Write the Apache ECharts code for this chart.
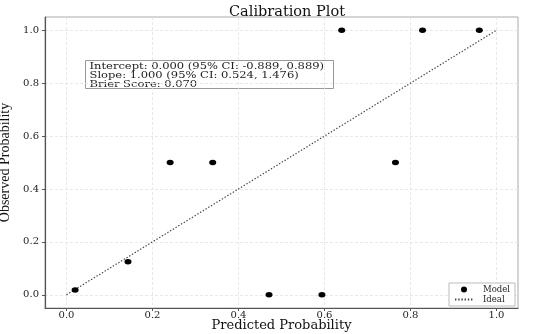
<!DOCTYPE html>
<html><head><meta charset="utf-8">
<script src="https://cdn.jsdelivr.net/npm/echarts@6/dist/echarts.min.js"></script>
<style>html,body{margin:0;padding:0;background:#fff}#c{width:550px;height:334px}</style>
</head><body><div id="c"></div>
<script>
const predicted = [0.02, 0.143, 0.241, 0.340, 0.471, 0.594, 0.640, 0.765, 0.828, 0.960];
const observed  = [0.018, 0.125, 0.5, 0.5, 0.0, 0.0, 1.0, 0.5, 1.0, 1.0];
const idealX = [0, 1];
const idealY = [0, 1];
const tickValues = [0, 0.2, 0.4, 0.6, 0.8, 1.0];
const statsLines = [
  'Intercept: 0.000 (95% CI: -0.889, 0.889)',
  'Slope: 1.000 (95% CI: 0.524, 1.476)',
  'Brier Score: 0.070'
];
const SERIF = 'DejaVu Serif';
const chart = echarts.init(document.getElementById('c'), null, {renderer: 'canvas'});
function axisCfg(name, isY) {
  return {
    type: 'value', min: -0.05, max: 1.05,
    name: name, nameLocation: 'middle', nameMoveOverlap: false,
    nameGap: isY ? 33 : 11,
    nameTextStyle: isY ? {fontFamily: 'Liberation Serif', fontSize: 14, color: '#111'} : {fontFamily: SERIF, fontSize: 13, color: '#111'},
    axisLine: {show: true, onZero: false, lineStyle: {color: '#555', width: 1.2}},
    axisTick: {show: true, length: 3, customValues: tickValues, lineStyle: {color: '#555'}},
    axisLabel: {customValues: tickValues, fontFamily: SERIF, fontSize: 10, color: '#222', margin: isY ? 6 : 2,
      formatter: v => v.toFixed(1)},
    splitLine: {show: true, lineStyle: {color: '#e2e2e2', type: [3, 2], width: 0.8}}
  };
}
chart.setOption({
  animation: false,
  title: {text: 'Calibration Plot', left: 282, textAlign: 'center', top: 0,
    textStyle: {fontFamily: SERIF, fontSize: 14.5, fontWeight: 'normal', color: '#111'}},
  grid: {left: 45, right: 32, top: 17, bottom: 26, show: true, borderColor: '#aaa', borderWidth: 1,
    containLabel: false, outerBoundsMode: 'none'},
  xAxis: axisCfg('Predicted Probability', false),
  yAxis: axisCfg('Observed Probability', true),
  legend: {
    orient: 'vertical', right: 35, bottom: 28,
    backgroundColor: '#fff', borderColor: '#bbb', borderWidth: 1, padding: [2, 5, 2, 5],
    itemGap: 1, itemWidth: 18, itemHeight: 6,
    textStyle: {fontFamily: SERIF, fontSize: 8.5, color: '#222', padding: [0, 0, 0, 5]},
    data: [{name: 'Model', icon: 'circle'}, {name: 'Ideal', itemStyle: {opacity: 0}}]
  },
  graphic: [{
    type: 'group', left: 85, top: 60,
    children: [
      {type: 'rect', shape: {x: 0, y: 0, width: 248, height: 28},
        style: {fill: '#fff', stroke: '#999', lineWidth: 1}},
      {type: 'text', x: 4, y: 1.5, scaleX: 1.2, style: {text: statsLines.join('\n'), font: '9.6px "DejaVu Serif"', fill: '#222', lineHeight: 8.8}}
    ]
  }],
  series: [
    {name: 'Ideal', type: 'line', data: idealX.map((x, i) => [x, idealY[i]]),
      showSymbol: false, symbol: 'none', itemStyle: {color: '#444'},
      lineStyle: {color: '#444', width: 1.2, type: [1.4, 1.8]}, z: 2},
    {name: 'Model', type: 'scatter', data: predicted.map((x, i) => [x, observed[i]]),
      symbol: 'circle', symbolSize: [7, 5.5], itemStyle: {color: '#000', opacity: 1}, z: 3}
  ]
});
</script></body></html>
